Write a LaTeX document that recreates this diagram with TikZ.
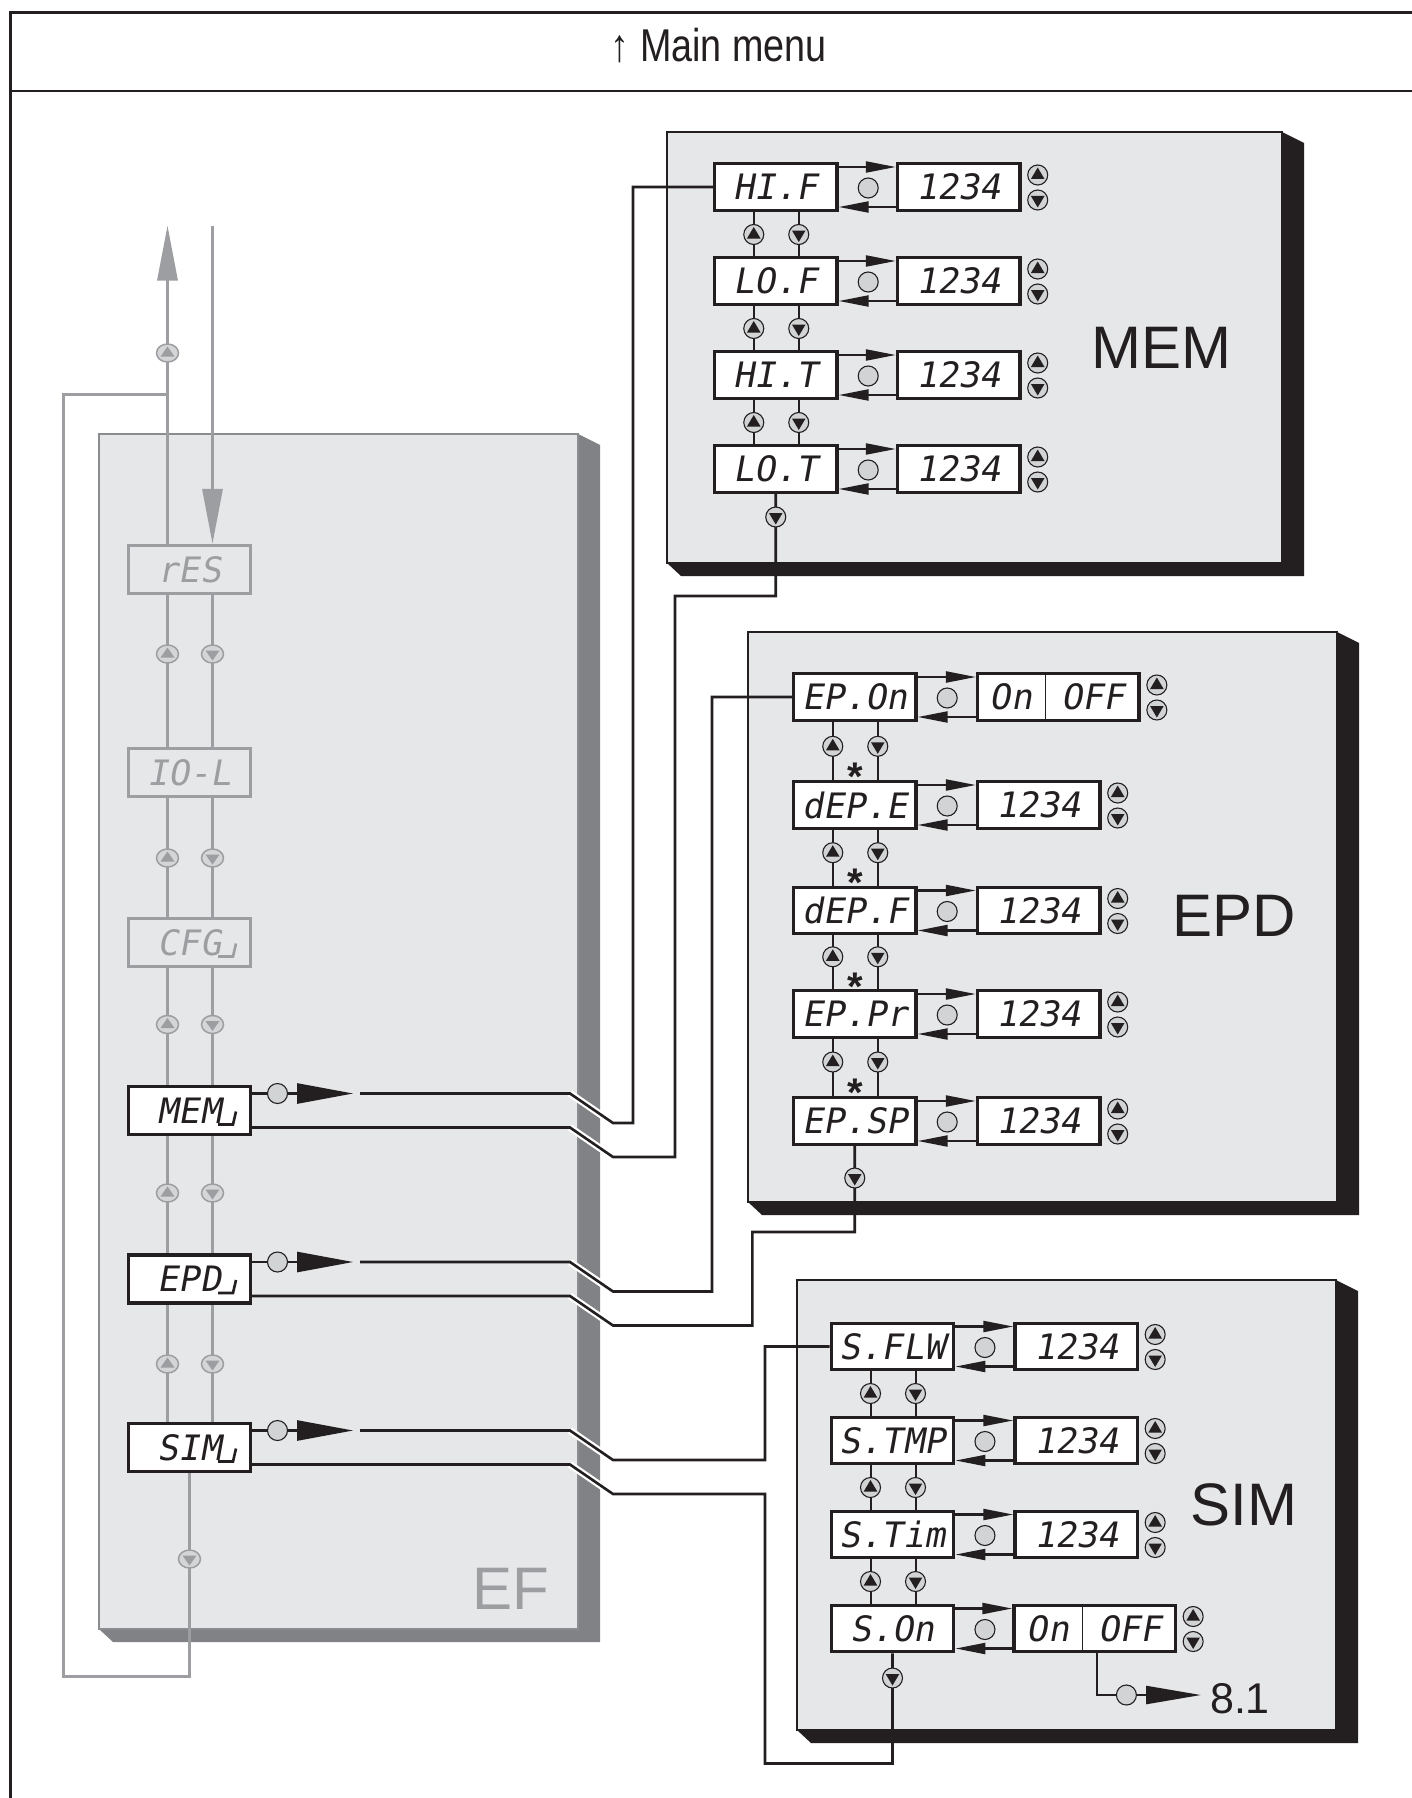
\documentclass[tikz,border=0pt]{standalone}
\usepackage{fontspec}
\setmainfont{Liberation Sans}
\newfontfamily\segfont{DejaVu Sans Mono}[FakeSlant=0.18]
\usetikzlibrary{arrows.meta,calc}
\pgfdeclarelayer{back}
\pgfdeclarelayer{bg}
\pgfsetlayers{back,bg,main}
\definecolor{ink}{HTML}{231F20}
\definecolor{panel}{HTML}{E6E7E8}
\definecolor{efshadow}{HTML}{808285}
\definecolor{efedge}{HTML}{8A8C8F}
\definecolor{gline}{HTML}{9C9EA1}
\definecolor{bfill}{HTML}{D1D3D4}
\definecolor{gbfill}{HTML}{D4D5D7}
\tikzset{
  seg/.style={font=\segfont\fontsize{35}{35}\selectfont},
  dbox/.style={draw=ink, line width=3.4pt, fill=white, minimum width=122.5pt, minimum height=46.5pt, inner sep=0pt, seg, text=ink},
  obox/.style={dbox, minimum width=161.5pt},
  efbox/.style={draw=ink, line width=3.4pt, fill=white, minimum width=122pt, minimum height=48pt, inner sep=0pt, seg, text=ink},
  efgbox/.style={efbox, draw=gline, fill=panel, text=gline},
  conn/.style={draw=ink, line width=2.6pt},
  halo/.style={draw=white, line width=7pt},
  vlink/.style={draw=ink, line width=2pt},
  glink/.style={draw=gline, line width=2.2pt},
  garrow/.style={draw=gline, line width=3.2pt, -{Triangle[length=55pt,width=20pt]}},
  varrow/.style={draw=ink, line width=2.2pt, -{Triangle[length=30pt,width=11pt]}},
  bigarrow/.style={draw=ink, line width=2.4pt, -{Triangle[length=56pt,width=20pt]}},
  knob/.style={fill=bfill, draw=ink, line width=1.1pt},
  plabel/.style={font=\fontsize{60}{60}\selectfont, text=ink, anchor=base, inner sep=0pt},
  star/.style={font=\bfseries\fontsize{40}{40}\selectfont, text=ink, anchor=base, inner sep=0pt},
  pics/bup/.style={code={\filldraw[knob] (0,0) circle (10pt); \fill[ink] (0,-7.5) -- (6.8,4) -- (-6.8,4) -- cycle;}},
  pics/bdown/.style={code={\filldraw[knob] (0,0) circle (10pt); \fill[ink] (0,7.5) -- (6.8,-4) -- (-6.8,-4) -- cycle;}},
  pics/gup/.style={code={\filldraw[fill=gbfill, draw=gline, line width=1.5pt] (0,0) ellipse (11pt and 9pt); \fill[gline] (0,-6.5) -- (7,3.5) -- (-7,3.5) -- cycle;}},
  pics/gdown/.style={code={\filldraw[fill=gbfill, draw=gline, line width=1.5pt] (0,0) ellipse (11pt and 9pt); \fill[gline] (0,6.5) -- (7,-3.5) -- (-7,-3.5) -- cycle;}},
}
\newcommand\shadowpanel[6]{%
  \fill[#5] (#3,#2) -- (#3+22,#2+11) -- (#3+22,#4+13) -- (#1+14,#4+13) -- (#1,#4) -- cycle;
  \filldraw[fill=panel, draw=#6, line width=2pt] (#1,#2) rectangle (#3,#4);
}
\begin{document}
\begin{tikzpicture}[x=1pt,y=-1pt]
\useasboundingbox (0,0) rectangle (1412,1798);
\begin{pgfonlayer}{back}
\fill[white] (0,0) rectangle (1412,1798);
\shadowpanel{99}{434}{578}{1629}{efshadow}{efedge}
\shadowpanel{667}{132}{1282}{563}{ink}{ink}
\shadowpanel{748}{632}{1337}{1202}{ink}{ink}
\shadowpanel{797}{1280}{1336}{1730}{ink}{ink}
\end{pgfonlayer}
% frame and header
\draw[ink, line width=3pt] (1413,12.5) -- (10.5,12.5) -- (10.5,1799);
\draw[ink, line width=2.6pt] (10.5,91) -- (1413,91);
\node[anchor=base east, font=\fontsize{46}{46}\selectfont, text=ink, inner sep=0pt] (hdr) at (827,62) {\scalebox{0.82}[1]{↑ Main menu}};
% panel labels
\node[plabel] (memlbl) at (1161,368) {MEM};
\node[plabel] (epdlbl) at (1234,936) {EPD};
\node[plabel] (simlbl) at (1244,1525) {SIM};
\node[plabel, text=gline] (eflbl) at (510.5,1609) {EF};
\node[font=\fontsize{43}{43}\selectfont, text=ink, anchor=base, inner sep=0pt] (exit81) at (1240,1713) {8.1};
% EF boxes
\node[efgbox] (res) at (189.5,569.5) {rES};
\node[efgbox] (iol) at (189.5,772.5) {IO-L};
\node[efgbox] (cfg) at (189.5,942.5) {CFG\hspace{28pt}};
\node[efbox] (mem0) at (189.5,1110.5) {MEM\hspace{28pt}};
\node[efbox] (epd0) at (189.5,1279) {EPD\hspace{28pt}};
\node[efbox] (sim0) at (189.5,1447.5) {SIM\hspace{28pt}};
\foreach \b/\c in {cfg/gline, mem0/ink, epd0/ink, sim0/ink}
  \draw[\c, line width=2.6pt] ($(\b.center)+(28.5,14)$) -- ++(15,0) -- ++(3,-13);
% MEM rows
\foreach \n/\cy/\lbl in {hif/187/HI.F, lof/281/LO.F, hit/375/HI.T, lot/469/LO.T}{
  \node[dbox] (\n) at (775.75,\cy) {\lbl};
  \node[dbox] (\n-v) at (958.75,\cy) {1234};
}
% EPD rows
\node[dbox] (epon) at (854.75,697) {EP.On};
\node[obox] (epon-v) at (1058.4,697) {};
\foreach \n/\cy/\lbl in {depe/805/dEP.E, depf/910.5/dEP.F, eppr/1014/EP.Pr, epsp/1121/EP.SP}{
  \node[dbox] (\n) at (854.75,\cy) {\lbl};
  \node[dbox] (\n-v) at (1038.75,\cy) {1234};
}
% SIM rows
\foreach \n/\cy/\lbl in {sflw/1346.5/S.FLW, stmp/1440.5/S.TMP, stim/1534.5/S.Tim}{
  \node[dbox] (\n) at (892.5,\cy) {\lbl};
  \node[dbox] (\n-v) at (1076.2,\cy) {1234};
}
\node[dbox] (son) at (892.5,1628.5) {S.On};
\node[obox] (son-v) at (1094.7,1628.5) {};
% On / OFF contents
\draw[ink, line width=1.3pt] ([xshift=-13pt]epon-v.north) -- ([xshift=-13pt]epon-v.south);
\node[seg, text=ink] (eponon) at (1011,697) {On};
\node[seg, text=ink] (eponoff) at (1093,697) {OFF};
\draw[ink, line width=1.3pt] ([xshift=-12.4pt]son-v.north) -- ([xshift=-12.4pt]son-v.south);
\node[seg, text=ink] (sonon) at (1048,1628.5) {On};
\node[seg, text=ink] (sonoff) at (1130,1628.5) {OFF};
% row arrows, knobs, side buttons
\foreach \n in {hif,lof,hit,lot,epon,depe,depf,eppr,epsp,sflw,stmp,stim,son}{
  \draw[varrow] ($(\n.east)+(0,-20)$) -- ($(\n-v.west)+(0,-20)$);
  \draw[varrow] ($(\n-v.west)+(0,20)$) -- ($(\n.east)+(0,20)$);
  \filldraw[knob] ($(\n.east)+(29.5,1)$) circle (10pt);
  \pic at ($(\n-v.east)+(16,-12)$) {bup};
  \pic at ($(\n-v.east)+(16,13)$) {bdown};
}
% vertical links in panels
\begin{pgfonlayer}{bg}
\foreach \a/\b in {hif/lof,lof/hit,hit/lot,epon/depe,depe/depf,depf/eppr,eppr/epsp,sflw/stmp,stmp/stim,stim/son}{
  \draw[vlink] ([xshift=-22pt]\a.center) -- ([xshift=-22pt]\b.center);
  \draw[vlink] ([xshift=23pt]\a.center) -- ([xshift=23pt]\b.center);
}
% EF gray links
\foreach \a/\b in {res/iol,iol/cfg,cfg/mem0,mem0/epd0,epd0/sim0}{
  \draw[glink] ([xshift=-22pt]\a.center) -- ([xshift=-22pt]\b.center);
  \draw[glink] ([xshift=23pt]\a.center) -- ([xshift=23pt]\b.center);
}
\coordinate (uptip) at (167.5,225.5);
\coordinate (downstart) at (212.5,225.5);
\draw[garrow] ([xshift=-22pt]res.north) -- (uptip);
\draw[garrow] (downstart) -- ([xshift=23pt]res.north);
\draw[gline, line width=3pt] (167.5,394) -- (63,394) -- (63,1676) -| (sim0.south);
% connectors
\foreach \y in {1093.5,1127.5,1262,1296,1430.5,1464.5}
  \draw[halo] (570,\y) -- (613,\y+29.5);
\draw[conn] (360,1093.5) -- (570,1093.5) -- (613,1123) -- (633,1123) |- (hif.west);
\draw[conn] ($(mem0.east)+(0,17)$) -- (570,1127.5) -- (613,1157) -- (675,1157) -- (675,596) -| (lot.south);
\draw[conn] (360,1262) -- (570,1262) -- (613,1291.5) -- (712,1291.5) |- (epon.west);
\draw[conn] ($(epd0.east)+(0,17)$) -- (570,1296) -- (613,1325.5) -- (752.3,1325.5) -- (752.3,1232) -| (epsp.south);
\draw[conn] (360,1430.5) -- (570,1430.5) -- (613,1460) -- (765,1460) |- (sflw.west);
\draw[conn] ($(sim0.east)+(0,17)$) -- (570,1464.5) -- (613,1494) -- (765,1494) -- (765,1763.5) -| (son.south);
\end{pgfonlayer}
% EF enter arrows
\foreach \b in {mem0,epd0,sim0}{
  \draw[bigarrow] ($(\b.east)+(0,-17)$) -- ++(101,0);
  \filldraw[knob] ($(\b.east)+(25.3,-17)$) circle (10pt);
}
% buttons between rows
\foreach \y in {234.5,328.5,422.5}{\pic at (753.75,\y) {bup}; \pic at (798.75,\y) {bdown};}
\foreach \y in {746.3,852.7,956.8,1062}{\pic at (832.75,\y) {bup}; \pic at (877.75,\y) {bdown}; \node[star] at (855.5,\y+44) {*};}
\foreach \y in {1393.5,1487.5,1581.5}{\pic at (870.5,\y) {bup}; \pic at (915.5,\y) {bdown};}
\pic at (775.75,517) {bdown};
\pic at (854.75,1178) {bdown};
\pic at (892.5,1678) {bdown};
% EF gray buttons
\pic at (167.5,353) {gup};
\foreach \y in {654,858,1024.5,1193,1364}{\pic at (167.5,\y) {gup}; \pic at (212.5,\y) {gdown};}
\pic at (189.5,1559) {gdown};
% exit to 8.1
\draw[ink, line width=2.4pt, -{Triangle[length=55pt,width=18pt]}] ($(son-v.south)+(2.3,0)$) |- (1201,1695);
\filldraw[knob] (1126.4,1695) circle (10pt);
\end{tikzpicture}
\end{document}
